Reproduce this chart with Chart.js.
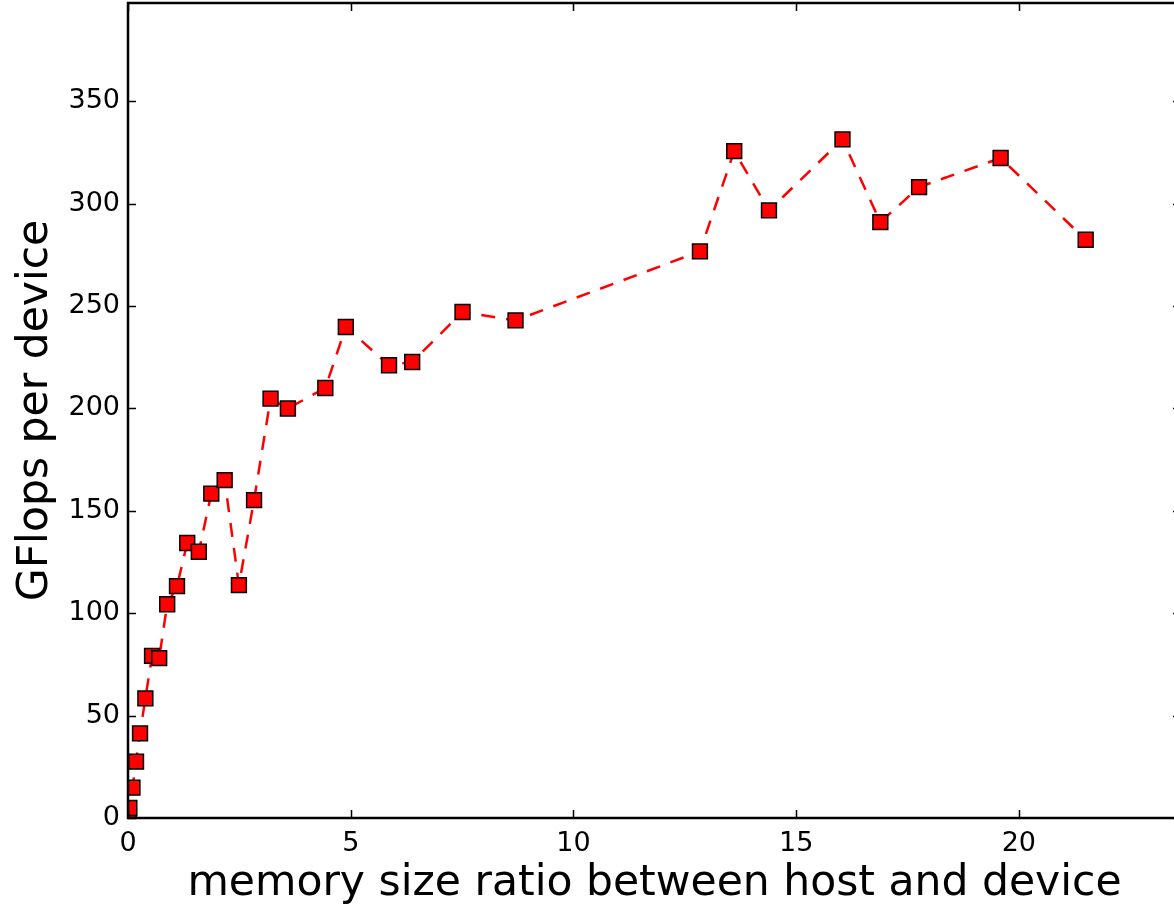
<!DOCTYPE html>
<html>
<head>
<meta charset="utf-8">
<title>GFlops per device</title>
<script src="https://cdn.jsdelivr.net/npm/chart.js@4"></script>
<style>
  html, body { margin: 0; padding: 0; background: #fff; overflow: hidden; }
  #wrap { width: 1190px; height: 913px; }
</style>
</head>
<body>
<div id="wrap"><canvas id="chart" width="1190" height="913"></canvas></div>
<script>
// memory size ratio (host / device)
const ratios = [
  0.02, 0.03, 0.10, 0.18, 0.27, 0.39, 0.54, 0.70, 0.88, 1.10,
  1.33, 1.59, 1.87, 2.17, 2.49, 2.83, 3.20, 3.59, 4.43, 4.89,
  5.86, 6.38, 7.51, 8.70, 12.84, 13.61, 14.39, 16.04, 16.89, 17.76,
  19.59, 21.50
];
// GFlops per device
const gflops = [
  1.0, 4.9, 14.8, 27.5, 41.3, 58.4, 79.2, 78.1, 104.4, 113.2,
  134.3, 130.0, 158.4, 165.0, 113.7, 155.2, 204.8, 200.0, 210.0, 239.8,
  221.1, 222.7, 247.1, 243.0, 276.7, 325.7, 296.7, 331.4, 291.0, 308.1,
  322.3, 282.4
];
const xTicks = [0, 5, 10, 15, 20];
const yTicks = [0, 50, 100, 150, 200, 250, 300, 350];

const points = ratios.map((r, i) => ({ x: r, y: gflops[i] }));

// box around the plot with short inward ticks on all four sides
const frameTicks = {
  id: "frameTicks",
  afterDatasetsDraw(chart) {
    const { ctx, chartArea: a, scales } = chart;
    const len = 8;
    ctx.save();
    ctx.strokeStyle = "#000";
    ctx.lineWidth = 1.5;
    ctx.beginPath();
    for (const v of xTicks) {
      const px = Math.round(scales.x.getPixelForValue(v)) + 0.5;
      ctx.moveTo(px, a.bottom);
      ctx.lineTo(px, a.bottom - len);
      ctx.moveTo(px, a.top);
      ctx.lineTo(px, a.top + len);
    }
    for (const v of yTicks) {
      const py = Math.round(scales.y.getPixelForValue(v)) + 0.5;
      ctx.moveTo(a.left, py);
      ctx.lineTo(a.left + len, py);
      ctx.moveTo(a.right, py);
      ctx.lineTo(a.right - len, py);
    }
    ctx.stroke();
    ctx.lineWidth = 2.5;
    ctx.strokeRect(a.left, a.top, a.right - a.left, a.bottom - a.top);
    ctx.restore();
  },
};

const font = "'DejaVu Sans', sans-serif";

new Chart(document.getElementById("chart"), {
  type: "line",
  data: {
    datasets: [
      {
        data: points,
        borderColor: "#ff0000",
        borderWidth: 2.5,
        borderDash: [14, 11],
        fill: false,
        tension: 0,
        pointStyle: "rect",
        pointRadius: 10.5,
        pointBackgroundColor: "#ff0000",
        pointBorderColor: "#000",
        pointBorderWidth: 1.5,
      },
    ],
  },
  options: {
    responsive: false,
    animation: false,
    events: [],
    layout: { autoPadding: false, padding: { top: 3, right: 9, left: 0, bottom: 0 } },
    plugins: {
      legend: { display: false },
      tooltip: { enabled: false },
    },
    scales: {
      x: {
        type: "linear",
        min: 0,
        max: 23.64,
        afterFit: (s) => { s.height = 95; s.paddingLeft = 0; s.paddingRight = 0; },
        afterBuildTicks: (s) => { s.ticks = xTicks.map((v) => ({ value: v })); },
        grid: { display: false, drawTicks: false },
        border: { display: false },
        ticks: {
          color: "#000",
          padding: 10,
          maxRotation: 0,
          font: { family: font, size: 27 },
        },
        title: {
          display: true,
          text: "memory size ratio between host and device",
          color: "#000",
          font: { family: font, size: 42.5 },
          padding: { bottom: 4 },
        },
      },
      y: {
        min: 0,
        max: 398,
        afterFit: (s) => { s.width = 128; s.paddingTop = 0; s.paddingBottom = 0; },
        afterBuildTicks: (s) => { s.ticks = yTicks.map((v) => ({ value: v })); },
        grid: { display: false, drawTicks: false },
        border: { display: false },
        ticks: {
          color: "#000",
          padding: 8,
          font: { family: font, size: 27 },
        },
        title: {
          display: true,
          text: "GFlops per device",
          color: "#000",
          font: { family: font, size: 42.5 },
          padding: { top: 10 },
        },
      },
    },
  },
  plugins: [frameTicks],
});
</script>
</body>
</html>
